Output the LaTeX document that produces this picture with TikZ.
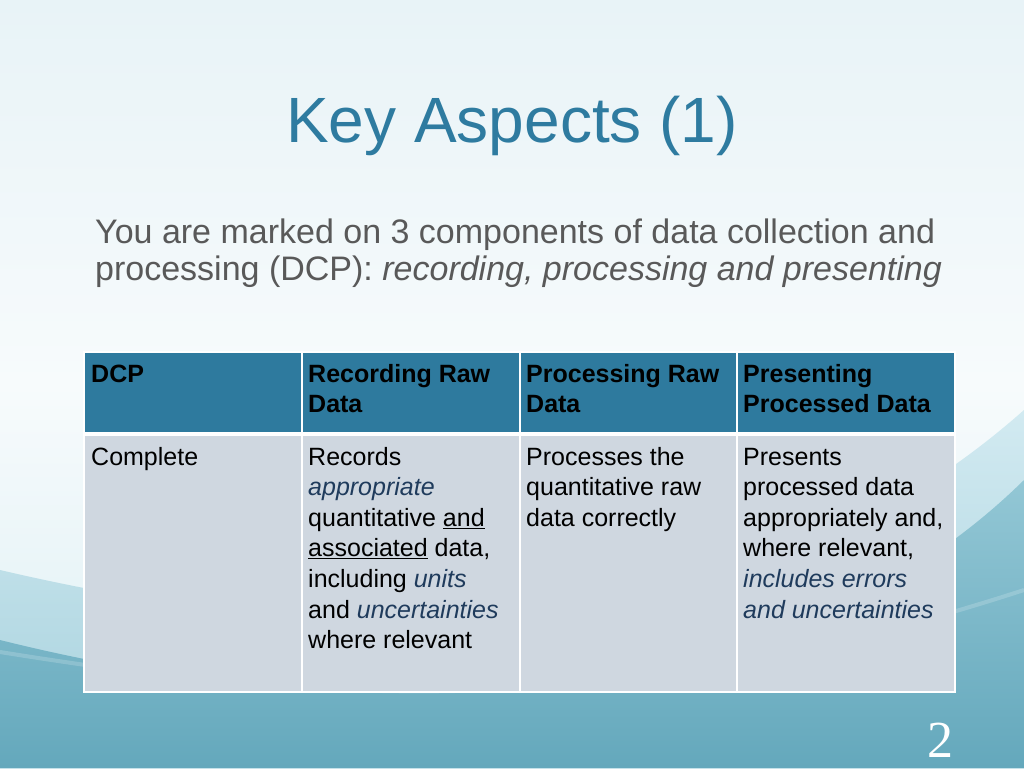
\documentclass[tikz,border=0pt]{standalone}
\usepackage{fontspec}
\setmainfont{Liberation Sans}
\newfontfamily\numfont{Liberation Serif}
\definecolor{titleblue}{HTML}{2E7BA0}
\definecolor{headfill}{HTML}{2E7A9E}
\definecolor{bodyfill}{HTML}{CFD7E0}
\definecolor{subgray}{HTML}{595959}
\definecolor{navy}{HTML}{1F3B5C}
\definecolor{bgtop}{HTML}{E8F3F7}
\definecolor{bgmid}{HTML}{F7FBFC}
\definecolor{bgbot}{HTML}{DCEFF4}
\definecolor{wavelight1}{HTML}{D2EAF1}
\definecolor{wavelight2}{HTML}{A6D1DD}
\definecolor{wavetop}{HTML}{93C7D5}
\definecolor{wavebot}{HTML}{64A8BC}
\newcommand{\hi}[1]{\textcolor{navy}{\textit{#1}}}
\begin{document}
\begin{tikzpicture}[x=1pt,y=-1pt,
  celltext/.style={anchor=base west,inner sep=0pt,font=\fontsize{25}{30.6}\selectfont,text=black},
  headtext/.style={celltext,font=\fontsize{25}{30.6}\selectfont\bfseries},
  headcell/.style={fill=headfill,draw=white,line width=1.5pt},
  bodycell/.style={fill=bodyfill,draw=white,line width=1.5pt}]
\useasboundingbox (0,0) rectangle (1024,768);
% background
\shade[top color=bgtop,bottom color=bgbot,middle color=bgmid] (0,0) rectangle (1024,768);
\shade[top color=wavelight1,bottom color=wavelight2]
  (0,570) .. controls (300,640) and (720,680) .. (1024,410) -- (1024,768) -- (0,768) -- cycle;
\shade[top color=wavetop,bottom color=wavebot]
  (0,640) .. controls (320,720) and (760,740) .. (1024,480) -- (1024,768) -- (0,768) -- cycle;
\draw[white,opacity=0.18,line width=4pt]
  (0,652) .. controls (300,700) and (600,728) .. (1024,590);
% title
\node[anchor=base,inner sep=0pt,text=titleblue,font=\fontsize{64}{70}\selectfont] (title) at (512,142) {Key Aspects (1)};
% subtitle
\node[anchor=base west,inner sep=0pt,text=subgray,font=\fontsize{34}{37}\selectfont,align=left] (sub) at (95,243)
  {\parbox[t]{950pt}{You are marked on 3 components of data collection and\\processing (DCP): \textit{recording, processing and presenting}}};
% table cells
\path[headcell] (84,352) rectangle (302,433);
\path[headcell] (302,352) rectangle (520,433);
\path[headcell] (520,352) rectangle (737,433);
\path[headcell] (737,352) rectangle (955,433);
\path[bodycell] (84,435) rectangle (302,692);
\path[bodycell] (302,435) rectangle (520,692);
\path[bodycell] (520,435) rectangle (737,692);
\path[bodycell] (737,435) rectangle (955,692);
\draw[white,line width=2.5pt] (84,434) -- (955,434);
% header text
\node[headtext] (h1) at (91,382) {\parbox[t]{205pt}{DCP}};
\node[headtext] (h2) at (308,382) {\parbox[t]{205pt}{Recording Raw\\Data}};
\node[headtext] (h3) at (526,382) {\parbox[t]{205pt}{Processing Raw\\Data}};
\node[headtext] (h4) at (743,382) {\parbox[t]{210pt}{Presenting\\Processed Data}};
% body text
\node[celltext] (b1) at (91,465) {\parbox[t]{205pt}{Complete}};
\node[celltext] (b2) at (308,465) {\parbox[t]{205pt}{Records\\\hi{appropriate}\\quantitative \underline{and}\\\underline{associated} data,\\including \hi{units}\\and \hi{uncertainties}\\where relevant}};
\node[celltext] (b3) at (526,465) {\parbox[t]{205pt}{Processes the\\quantitative raw\\data correctly}};
\node[celltext] (b4) at (743,465) {\parbox[t]{210pt}{Presents\\processed data\\appropriately and,\\where relevant,\\\hi{includes errors}\\\hi{and uncertainties}}};
% page number
\node[anchor=base,inner sep=0pt,text=white,font=\numfont\fontsize{52}{56}\selectfont] (num) at (940,757) {2};
\end{tikzpicture}
\end{document}
